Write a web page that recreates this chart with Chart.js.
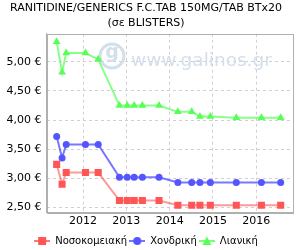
<!DOCTYPE html>
<html><head><meta charset="utf-8">
<script src="https://cdn.jsdelivr.net/npm/chart.js@4/dist/chart.umd.min.js"></script>
<style>html,body{margin:0;padding:0;background:#fff}#wrap{width:300px;height:250px}</style>
</head><body><div id="wrap"><canvas id="c" width="300" height="250"></canvas></div>
<script>
const titleLines = ["RANITIDINE/GENERICS F.C.TAB 150MG/TAB BTx20", "(σε BLISTERS)"];
const dates = [2011.39, 2011.515, 2011.61, 2012.055, 2012.35, 2012.84, 2013.02, 2013.18, 2013.37, 2013.755, 2014.19, 2014.51, 2014.70, 2014.94, 2015.54, 2016.12, 2016.565];
const hospital = [3.24, 2.90, 3.10, 3.10, 3.10, 2.62, 2.62, 2.62, 2.62, 2.62, 2.54, 2.54, 2.54, 2.54, 2.54, 2.54, 2.54];
const wholesale = [3.72, 3.35, 3.58, 3.58, 3.58, 3.02, 3.02, 3.02, 3.02, 3.02, 2.93, 2.93, 2.93, 2.93, 2.93, 2.93, 2.93];
const retail = [5.34, 4.82, 5.15, 5.15, 5.04, 4.25, 4.25, 4.25, 4.25, 4.25, 4.14, 4.14, 4.06, 4.06, 4.04, 4.04, 4.04];
const seriesNames = ["Νοσοκομειακή", "Χονδρική", "Λιανική"];
const yearTicks = [2012, 2013, 2014, 2015, 2016];
const priceTicks = [2.5, 3.0, 3.5, 4.0, 4.5, 5.0];

const FONT = "'DejaVu Sans', sans-serif";
function pts(vals){ return vals.map((v,i)=>({x:dates[i], y:v})); }

function legendIcon(color, style){
  const c = document.createElement('canvas'); c.width = 16; c.height = 10;
  const g = c.getContext('2d');
  g.strokeStyle = color; g.globalAlpha = 0.8; g.lineWidth = 2;
  g.beginPath(); g.moveTo(0,5); g.lineTo(16,5); g.stroke();
  g.globalAlpha = 1; g.fillStyle = color; g.beginPath();
  if (style==='rect') g.rect(4,1,8,8);
  else if (style==='circle') g.arc(8,5,4,0,Math.PI*2);
  else { g.moveTo(8,0.5); g.lineTo(12.5,9); g.lineTo(3.5,9); g.closePath(); }
  g.fill();
  return c;
}

const cols = ['#ff5555', '#5555ff', '#55ff55'];
const lineCols = ['rgba(255,85,85,0.6)', 'rgba(85,85,255,0.8)', 'rgba(85,255,85,0.7)'];
const styles = ['rect', 'circle', 'triangle'];
const radii = [5, 3.5, 4.5];
const icons = styles.map((s,i)=>legendIcon(cols[i], s));

const frame = {
  id:'frame',
  beforeDatasetsDraw(chart){
    const {ctx} = chart;
    ctx.save();
    ctx.strokeStyle = '#d3dfeb'; ctx.fillStyle = '#d3dfeb'; ctx.lineWidth = 3;
    ctx.beginPath(); ctx.arc(112, 56, 12, 0, Math.PI*2); ctx.stroke();
    ctx.font = "bold 19px " + FONT; ctx.textAlign='center'; ctx.textBaseline='middle';
    ctx.fillText('g', 112, 53);
    ctx.font = "18.5px " + FONT; ctx.textAlign='left'; ctx.textBaseline='alphabetic';
    ctx.fillText('www.galinos.gr', 131, 66);
    ctx.restore();
  },
  afterDraw(chart){
    const {ctx, chartArea:a} = chart;
    ctx.save(); ctx.strokeStyle = '#b0b0b0'; ctx.lineWidth = 1;
    ctx.strokeRect(Math.round(a.left)+0.5, Math.round(a.top)+0.5, Math.round(a.right-a.left), Math.round(a.bottom-a.top));
    ctx.restore();
  }
};

new Chart(document.getElementById('c'), {
  type:'line',
  data:{ datasets:[hospital, wholesale, retail].map((vals,i)=>({
    label: seriesNames[i], data: pts(vals),
    borderColor: lineCols[i], backgroundColor: cols[i], borderWidth: 2,
    pointStyle: styles[i], pointRadius: radii[i], pointBackgroundColor: cols[i],
    pointBorderColor: cols[i], pointBorderWidth: 0, tension: 0
  }))},
  options:{
    responsive:false, animation:false, devicePixelRatio:1,
    layout:{padding:{left:0, right:8, top:0, bottom:-6}},
    plugins:{
      title:{display:true, text:titleLines, color:'#000', font:{family:FONT, size:11, weight:'normal', lineHeight:1.35}, padding:{top:1, bottom:3}},
      legend:{position:'bottom', labels:{color:'#000', font:{family:FONT, size:10}, usePointStyle:true, pointStyleWidth:16, boxHeight:10, padding:2,
        generateLabels(chart){ return chart.data.datasets.map((d,i)=>({text:d.label, pointStyle:icons[i], fillStyle:cols[i], strokeStyle:cols[i], lineWidth:0, datasetIndex:i, hidden:false})); }}},
      tooltip:{enabled:false}
    },
    scales:{
      x:{type:'linear', min:2011.155, max:2016.827,
        afterBuildTicks(s){ s.ticks = yearTicks.map(v=>({value:v})); },
        afterFit(s){ s.height = s.height + 4; },
        ticks:{color:'#000', font:{family:FONT, size:11}, maxRotation:0, padding:2, callback:v=>String(v)},
        grid:{color:'#d0d0d0', drawTicks:false}, border:{display:true, color:'#b0b0b0', dash:[3,3]}},
      y:{type:'linear', min:2.41, max:5.48,
        afterBuildTicks(s){ s.ticks = priceTicks.map(v=>({value:v})); },
        afterFit(s){ s.width = 46.5; },
        ticks:{color:'#000', font:{family:FONT, size:11}, padding:5, callback:v=>v.toFixed(2).replace('.',',')+' €'},
        grid:{color:'#d0d0d0', drawTicks:false}, border:{display:true, color:'#b0b0b0', dash:[3,3]}}
    }
  },
  plugins:[frame]
});
</script></body></html>
